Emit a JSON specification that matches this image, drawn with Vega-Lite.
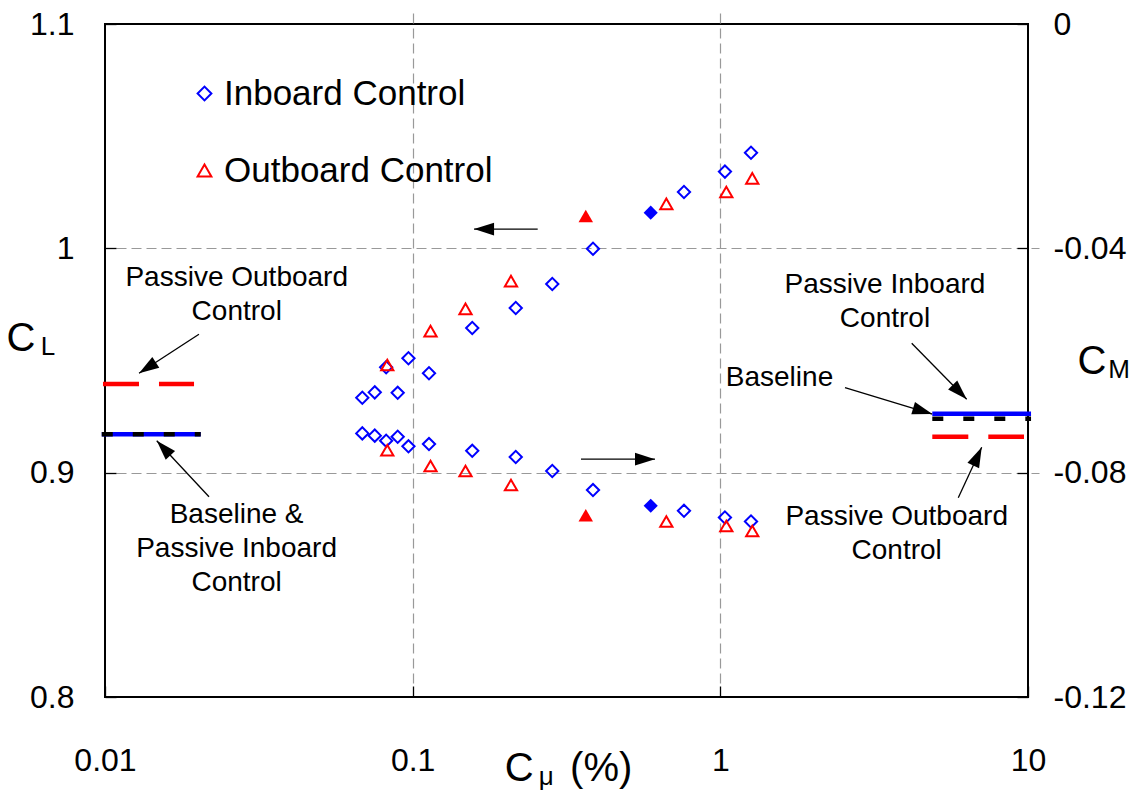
{
  "$schema": "https://vega.github.io/schema/vega-lite/v6.json",
  "width": 923,
  "height": 673,
  "autosize": {"type": "none"},
  "padding": {"left": 105, "top": 24, "right": 119, "bottom": 95},
  "background": "white",
  "config": {
    "font": "Liberation Sans",
    "view": {"stroke": "black", "strokeWidth": 2},
    "axis": {
      "labelFont": "Liberation Sans",
      "labelFontSize": 32,
      "labelColor": "black",
      "tickColor": "black",
      "tickSize": 11,
      "tickWidth": 1.3,
      "offset": -11,
      "domain": false,
      "labelOverlap": false,
      "labelFlush": false,
      "gridColor": "#999999",
      "gridDash": [10, 5],
      "gridWidth": 1.2
    }
  },
  "datasets": {
    "pts": [
      {"cmu": 0.0686, "series": "Inboard Control", "cl": 0.9334, "cm": -0.0730, "highlight": false},
      {"cmu": 0.0753, "series": "Inboard Control", "cl": 0.9358, "cm": -0.0734, "highlight": false},
      {"cmu": 0.0820, "series": "Inboard Control", "cl": 0.9470, "cm": -0.0743, "highlight": false},
      {"cmu": 0.0894, "series": "Inboard Control", "cl": 0.9356, "cm": -0.0736, "highlight": false},
      {"cmu": 0.0969, "series": "Inboard Control", "cl": 0.9510, "cm": -0.0753, "highlight": false},
      {"cmu": 0.1130, "series": "Inboard Control", "cl": 0.9443, "cm": -0.0749, "highlight": false},
      {"cmu": 0.1562, "series": "Inboard Control", "cl": 0.9645, "cm": -0.0761, "highlight": false},
      {"cmu": 0.2163, "series": "Inboard Control", "cl": 0.9734, "cm": -0.0772, "highlight": false},
      {"cmu": 0.2843, "series": "Inboard Control", "cl": 0.9841, "cm": -0.0797, "highlight": false},
      {"cmu": 0.3856, "series": "Inboard Control", "cl": 0.9998, "cm": -0.0831, "highlight": false},
      {"cmu": 0.5939, "series": "Inboard Control", "cl": 1.0159, "cm": -0.0859, "highlight": true},
      {"cmu": 0.7618, "series": "Inboard Control", "cl": 1.0251, "cm": -0.0868, "highlight": false},
      {"cmu": 1.035, "series": "Inboard Control", "cl": 1.0342, "cm": -0.0880, "highlight": false},
      {"cmu": 1.258, "series": "Inboard Control", "cl": 1.0426, "cm": -0.0887, "highlight": false},
      {"cmu": 0.0827, "series": "Outboard Control", "cl": 0.9480, "cm": -0.0760, "highlight": false},
      {"cmu": 0.1143, "series": "Outboard Control", "cl": 0.9631, "cm": -0.0788, "highlight": false},
      {"cmu": 0.1485, "series": "Outboard Control", "cl": 0.9730, "cm": -0.0797, "highlight": false},
      {"cmu": 0.2087, "series": "Outboard Control", "cl": 0.9854, "cm": -0.0822, "highlight": false},
      {"cmu": 0.3653, "series": "Outboard Control", "cl": 1.0144, "cm": -0.0876, "highlight": true},
      {"cmu": 0.6676, "series": "Outboard Control", "cl": 1.0198, "cm": -0.0887, "highlight": false},
      {"cmu": 1.0457, "series": "Outboard Control", "cl": 1.0251, "cm": -0.0895, "highlight": false},
      {"cmu": 1.270, "series": "Outboard Control", "cl": 1.0312, "cm": -0.0904, "highlight": false}
    ],
    "refs": [
      {"coef": "CL", "case": "Passive Outboard", "value": 0.9395, "from": 0.00985, "to": 0.01947},
      {"coef": "CL", "case": "Passive Inboard", "value": 0.9171, "from": 0.00976, "to": 0.02047},
      {"coef": "CL", "case": "Baseline", "value": 0.9171, "from": 0.00976, "to": 0.02047},
      {"coef": "CM", "case": "Passive Outboard", "value": -0.0736, "from": 4.886, "to": 9.705},
      {"coef": "CM", "case": "Passive Inboard", "value": -0.0695, "from": 4.886, "to": 10.23},
      {"coef": "CM", "case": "Baseline", "value": -0.0704, "from": 4.886, "to": 10.23}
    ],
    "arrows": [
      {"id": 1, "tailX": 0.2549, "tailY": 1.0086, "tipX": 0.1583, "tipY": 1.0086},
      {"id": 2, "tailX": 0.3525, "tailY": 0.9060, "tipX": 0.6132, "tipY": 0.9060},
      {"id": 3, "tailX": 0.02020, "tailY": 0.96168, "tipX": 0.01290, "tipY": 0.94429},
      {"id": 4, "tailX": 0.02178, "tailY": 0.88928, "tipX": 0.01473, "tipY": 0.91425},
      {"id": 5, "tailX": 4.188, "tailY": 0.95766, "tipX": 6.320, "tipY": 0.9327},
      {"id": 6, "tailX": 2.542, "tailY": 0.93787, "tipX": 4.886, "tipY": 0.92615},
      {"id": 7, "tailX": 5.934, "tailY": 0.88884, "tipX": 7.071, "tipY": 0.9113}
    ],
    "notes": [
      {"text": "Passive Outboard\nControl", "cmu": 0.0268, "cl": 0.98664},
      {"text": "Baseline &\nPassive Inboard\nControl", "cmu": 0.02677, "cl": 0.88113},
      {"text": "Passive Inboard\nControl", "cmu": 3.429, "cl": 0.98365},
      {"text": "Baseline", "cmu": 1.557, "cl": 0.9422},
      {"text": "Passive Outboard\nControl", "cmu": 3.743, "cl": 0.88037}
    ],
    "titles": [
      {"t": "C", "s": "L", "r": "", "cmu": 0.00533, "cl": 0.9596},
      {"t": "C", "s": "M", "r": "", "cmu": 16.14, "cl": 0.9492},
      {"t": "C", "s": "μ", "r": "(%)", "cmu": 0.2220, "cl": 0.7680}
    ]
  },
  "resolve": {"scale": {"y": "independent"}},
  "layer": [
    {
      "layer": [
        {
          "data": {"name": "refs"},
          "transform": [{"filter": "datum.coef == 'CL'"}],
          "mark": {"type": "rule", "strokeWidth": 4.5, "strokeCap": "butt"},
          "encoding": {
            "x": {"field": "from", "type": "quantitative", "scale": {"type": "log", "domain": [0.01, 10], "nice": false}, "axis": {"orient": "bottom", "values": [0.01, 0.1, 1, 10], "format": "~g", "title": null, "grid": true, "gridOpacity": {"condition": {"test": "datum.value > 0.011 && datum.value < 9", "value": 1}, "value": 0}, "labelPadding": 48}},
            "x2": {"field": "to"},
            "y": {"field": "value", "type": "quantitative", "scale": {"domain": [0.8, 1.1], "nice": false, "zero": false}, "axis": {"orient": "left", "values": [0.8, 0.9, 1, 1.1], "format": "~g", "title": null, "grid": true, "gridOpacity": {"condition": {"test": "datum.value > 0.81 && datum.value < 1.09", "value": 1}, "value": 0}, "labelPadding": 31}},
            "stroke": {"field": "case", "type": "nominal", "scale": {"domain": ["Baseline", "Passive Inboard", "Passive Outboard"], "range": ["#000000", "#0000ff", "#ff0000"]}, "legend": null},
            "strokeDash": {"field": "case", "type": "nominal", "scale": {"domain": ["Baseline", "Passive Inboard", "Passive Outboard"], "range": [[11, 20], [1, 0], [36, 20]]}, "legend": null}
          }
        },
        {
          "data": {"name": "pts"},
          "transform": [{"filter": "!datum.highlight"}],
          "mark": {"type": "point", "filled": false, "strokeWidth": 2, "size": 150, "opacity": 1},
          "encoding": {
            "x": {"field": "cmu", "type": "quantitative", "scale": {"type": "log", "domain": [0.01, 10], "nice": false}},
            "y": {"field": "cl", "type": "quantitative", "scale": {"domain": [0.8, 1.1], "nice": false, "zero": false}},
            "color": {"field": "series", "type": "nominal", "scale": {"domain": ["Inboard Control", "Outboard Control"], "range": ["#0000ff", "#ff0000"]},
              "legend": {"orient": "none", "legendX": 82, "legendY": 52, "title": null, "labelFontSize": 35, "labelFont": "Liberation Sans", "labelColor": "black", "labelLimit": 500, "symbolSize": 190, "symbolStrokeWidth": 2, "rowPadding": 41, "labelOffset": 2, "padding": 0, "symbolOpacity": 1}},
            "shape": {"field": "series", "type": "nominal", "scale": {"domain": ["Inboard Control", "Outboard Control"], "range": ["diamond", "triangle-up"]},
              "legend": {"orient": "none", "legendX": 82, "legendY": 52, "title": null, "labelFontSize": 35, "labelFont": "Liberation Sans", "labelColor": "black", "labelLimit": 500, "symbolSize": 190, "symbolStrokeWidth": 2, "rowPadding": 41, "labelOffset": 2, "padding": 0, "symbolOpacity": 1}}
          }
        },
        {
          "data": {"name": "pts"},
          "transform": [{"filter": "datum.highlight && datum.series == 'Inboard Control'"}],
          "mark": {"type": "point", "shape": "diamond", "filled": true, "color": "#0000ff", "size": 200, "opacity": 1},
          "encoding": {
            "x": {"field": "cmu", "type": "quantitative", "scale": {"type": "log", "domain": [0.01, 10], "nice": false}},
            "y": {"field": "cl", "type": "quantitative", "scale": {"domain": [0.8, 1.1], "nice": false, "zero": false}}
          }
        },
        {
          "data": {"name": "pts"},
          "transform": [{"filter": "datum.highlight && datum.series == 'Outboard Control'"}],
          "mark": {"type": "point", "shape": "triangle-up", "filled": true, "color": "#ff0000", "size": 210, "opacity": 1},
          "encoding": {
            "x": {"field": "cmu", "type": "quantitative", "scale": {"type": "log", "domain": [0.01, 10], "nice": false}},
            "y": {"field": "cl", "type": "quantitative", "scale": {"domain": [0.8, 1.1], "nice": false, "zero": false}}
          }
        },
        {
          "data": {"name": "arrows"},
          "mark": {"type": "rule", "color": "black", "strokeWidth": 1.3},
          "encoding": {
            "x": {"field": "tailX", "type": "quantitative", "scale": {"type": "log", "domain": [0.01, 10], "nice": false}},
            "x2": {"field": "tipX"},
            "y": {"field": "tailY", "type": "quantitative", "scale": {"domain": [0.8, 1.1], "nice": false, "zero": false}},
            "y2": {"field": "tipY"}
          }
        },
        {
          "data": {"name": "arrows"},
          "transform": [{"filter": "datum.id == 1"}],
          "mark": {"type": "point", "shape": "M0,0L0.32,1L-0.32,1Z", "filled": true, "color": "black", "size": 1600, "angle": 270, "opacity": 1, "strokeWidth": 0},
          "encoding": {
            "x": {"field": "tipX", "type": "quantitative", "scale": {"type": "log", "domain": [0.01, 10], "nice": false}},
            "y": {"field": "tipY", "type": "quantitative", "scale": {"domain": [0.8, 1.1], "nice": false, "zero": false}}
          }
        },
        {
          "data": {"name": "arrows"},
          "transform": [{"filter": "datum.id == 2"}],
          "mark": {"type": "point", "shape": "M0,0L0.32,1L-0.32,1Z", "filled": true, "color": "black", "size": 1600, "angle": 90, "opacity": 1, "strokeWidth": 0},
          "encoding": {
            "x": {"field": "tipX", "type": "quantitative", "scale": {"type": "log", "domain": [0.01, 10], "nice": false}},
            "y": {"field": "tipY", "type": "quantitative", "scale": {"domain": [0.8, 1.1], "nice": false, "zero": false}}
          }
        },
        {
          "data": {"name": "arrows"},
          "transform": [{"filter": "datum.id == 3"}],
          "mark": {"type": "point", "shape": "M0,0L0.32,1L-0.32,1Z", "filled": true, "color": "black", "size": 1600, "angle": 237, "opacity": 1, "strokeWidth": 0},
          "encoding": {
            "x": {"field": "tipX", "type": "quantitative", "scale": {"type": "log", "domain": [0.01, 10], "nice": false}},
            "y": {"field": "tipY", "type": "quantitative", "scale": {"domain": [0.8, 1.1], "nice": false, "zero": false}}
          }
        },
        {
          "data": {"name": "arrows"},
          "transform": [{"filter": "datum.id == 4"}],
          "mark": {"type": "point", "shape": "M0,0L0.32,1L-0.32,1Z", "filled": true, "color": "black", "size": 1600, "angle": 317, "opacity": 1, "strokeWidth": 0},
          "encoding": {
            "x": {"field": "tipX", "type": "quantitative", "scale": {"type": "log", "domain": [0.01, 10], "nice": false}},
            "y": {"field": "tipY", "type": "quantitative", "scale": {"domain": [0.8, 1.1], "nice": false, "zero": false}}
          }
        },
        {
          "data": {"name": "arrows"},
          "transform": [{"filter": "datum.id == 5"}],
          "mark": {"type": "point", "shape": "M0,0L0.32,1L-0.32,1Z", "filled": true, "color": "black", "size": 1600, "angle": 135.5, "opacity": 1, "strokeWidth": 0},
          "encoding": {
            "x": {"field": "tipX", "type": "quantitative", "scale": {"type": "log", "domain": [0.01, 10], "nice": false}},
            "y": {"field": "tipY", "type": "quantitative", "scale": {"domain": [0.8, 1.1], "nice": false, "zero": false}}
          }
        },
        {
          "data": {"name": "arrows"},
          "transform": [{"filter": "datum.id == 6"}],
          "mark": {"type": "point", "shape": "M0,0L0.32,1L-0.32,1Z", "filled": true, "color": "black", "size": 1600, "angle": 106.8, "opacity": 1, "strokeWidth": 0},
          "encoding": {
            "x": {"field": "tipX", "type": "quantitative", "scale": {"type": "log", "domain": [0.01, 10], "nice": false}},
            "y": {"field": "tipY", "type": "quantitative", "scale": {"domain": [0.8, 1.1], "nice": false, "zero": false}}
          }
        },
        {
          "data": {"name": "arrows"},
          "transform": [{"filter": "datum.id == 7"}],
          "mark": {"type": "point", "shape": "M0,0L0.32,1L-0.32,1Z", "filled": true, "color": "black", "size": 1600, "angle": 24.9, "opacity": 1, "strokeWidth": 0},
          "encoding": {
            "x": {"field": "tipX", "type": "quantitative", "scale": {"type": "log", "domain": [0.01, 10], "nice": false}},
            "y": {"field": "tipY", "type": "quantitative", "scale": {"domain": [0.8, 1.1], "nice": false, "zero": false}}
          }
        },
        {
          "data": {"name": "notes"},
          "mark": {"type": "text", "font": "Liberation Sans", "fontSize": 28, "lineBreak": "\n", "lineHeight": 34, "align": "center", "baseline": "middle", "color": "black"},
          "encoding": {
            "x": {"field": "cmu", "type": "quantitative", "scale": {"type": "log", "domain": [0.01, 10], "nice": false}},
            "y": {"field": "cl", "type": "quantitative", "scale": {"domain": [0.8, 1.1], "nice": false, "zero": false}},
            "text": {"field": "text"}
          }
        },
        {
          "data": {"name": "titles"},
          "mark": {"type": "text", "font": "Liberation Sans", "fontSize": 40, "align": "center", "baseline": "middle", "color": "black"},
          "encoding": {
            "x": {"field": "cmu", "type": "quantitative", "scale": {"type": "log", "domain": [0.01, 10], "nice": false}},
            "y": {"field": "cl", "type": "quantitative", "scale": {"domain": [0.8, 1.1], "nice": false, "zero": false}},
            "text": {"field": "t"}
          }
        },
        {
          "data": {"name": "titles"},
          "mark": {"type": "text", "font": "Liberation Sans", "fontSize": 26, "align": "center", "baseline": "middle", "color": "black", "dx": 27, "dy": 8},
          "encoding": {
            "x": {"field": "cmu", "type": "quantitative", "scale": {"type": "log", "domain": [0.01, 10], "nice": false}},
            "y": {"field": "cl", "type": "quantitative", "scale": {"domain": [0.8, 1.1], "nice": false, "zero": false}},
            "text": {"field": "s"}
          }
        },
        {
          "data": {"name": "titles"},
          "mark": {"type": "text", "font": "Liberation Sans", "fontSize": 40, "align": "center", "baseline": "middle", "color": "black", "dx": 82},
          "encoding": {
            "x": {"field": "cmu", "type": "quantitative", "scale": {"type": "log", "domain": [0.01, 10], "nice": false}},
            "y": {"field": "cl", "type": "quantitative", "scale": {"domain": [0.8, 1.1], "nice": false, "zero": false}},
            "text": {"field": "r"}
          }
        }
      ]
    },
    {
      "layer": [
        {
          "data": {"name": "refs"},
          "transform": [{"filter": "datum.coef == 'CM'"}],
          "mark": {"type": "rule", "strokeWidth": 4.5, "strokeCap": "butt"},
          "encoding": {
            "x": {"field": "from", "type": "quantitative", "scale": {"type": "log", "domain": [0.01, 10], "nice": false}},
            "x2": {"field": "to"},
            "y": {"field": "value", "type": "quantitative", "scale": {"domain": [-0.12, 0], "nice": false, "zero": false}, "axis": {"orient": "right", "values": [-0.12, -0.08, -0.04, 0], "format": "~g", "labelExpr": "replace(datum.label, '−', '-')", "title": null, "grid": false, "labelPadding": 25}},
            "stroke": {"field": "case", "type": "nominal", "scale": {"domain": ["Baseline", "Passive Inboard", "Passive Outboard"], "range": ["#000000", "#0000ff", "#ff0000"]}, "legend": null},
            "strokeDash": {"field": "case", "type": "nominal", "scale": {"domain": ["Baseline", "Passive Inboard", "Passive Outboard"], "range": [[11, 20], [1, 0], [36, 20]]}, "legend": null}
          }
        },
        {
          "data": {"name": "pts"},
          "transform": [{"filter": "!datum.highlight"}],
          "mark": {"type": "point", "filled": false, "strokeWidth": 2, "size": 150, "opacity": 1},
          "encoding": {
            "x": {"field": "cmu", "type": "quantitative", "scale": {"type": "log", "domain": [0.01, 10], "nice": false}},
            "y": {"field": "cm", "type": "quantitative", "scale": {"domain": [-0.12, 0], "nice": false, "zero": false}},
            "color": {"field": "series", "type": "nominal", "scale": {"domain": ["Inboard Control", "Outboard Control"], "range": ["#0000ff", "#ff0000"]}, "legend": null},
            "shape": {"field": "series", "type": "nominal", "scale": {"domain": ["Inboard Control", "Outboard Control"], "range": ["diamond", "triangle-up"]}, "legend": null}
          }
        },
        {
          "data": {"name": "pts"},
          "transform": [{"filter": "datum.highlight && datum.series == 'Inboard Control'"}],
          "mark": {"type": "point", "shape": "diamond", "filled": true, "color": "#0000ff", "size": 200, "opacity": 1},
          "encoding": {
            "x": {"field": "cmu", "type": "quantitative", "scale": {"type": "log", "domain": [0.01, 10], "nice": false}},
            "y": {"field": "cm", "type": "quantitative", "scale": {"domain": [-0.12, 0], "nice": false, "zero": false}}
          }
        },
        {
          "data": {"name": "pts"},
          "transform": [{"filter": "datum.highlight && datum.series == 'Outboard Control'"}],
          "mark": {"type": "point", "shape": "triangle-up", "filled": true, "color": "#ff0000", "size": 210, "opacity": 1},
          "encoding": {
            "x": {"field": "cmu", "type": "quantitative", "scale": {"type": "log", "domain": [0.01, 10], "nice": false}},
            "y": {"field": "cm", "type": "quantitative", "scale": {"domain": [-0.12, 0], "nice": false, "zero": false}}
          }
        }
      ]
    }
  ]
}
